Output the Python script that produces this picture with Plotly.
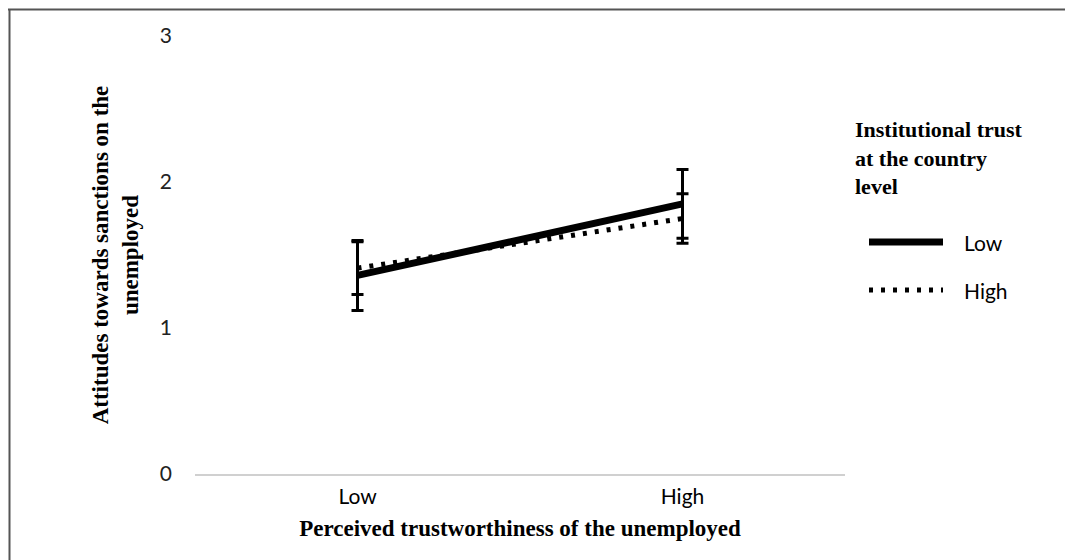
import plotly.graph_objects as go

categories = ["Low", "High"]
low_trust = [1.36, 1.85]
low_trust_err = [0.24, 0.235]
high_trust = [1.41, 1.75]
high_trust_err = [0.18, 0.17]
y_ticks = [0, 1, 2, 3]
legend_title = "Institutional trust<br>at the country<br>level"
series_names = ["Low", "High"]

SERIF = "Liberation Serif, Times New Roman, serif"
SANS = "Lato, Open Sans, sans-serif"

# page has an 8px body margin, so the figure is sized to fit the 1073x560 window
W, H = 1065, 552
L, R, T, B = 187, 228, 28, 86
PW, PH = W - L - R, H - T - B


def px(x):
    return (x - L) / PW


def py(y):
    return (H - B - y) / PH


fig = go.Figure()
fig.add_trace(go.Scatter(
    x=categories, y=low_trust, name=series_names[0], mode="lines",
    line=dict(color="black", width=7),
    error_y=dict(type="data", array=low_trust_err, color="black", thickness=3, width=6),
    showlegend=False,
))
fig.add_trace(go.Scatter(
    x=categories, y=high_trust, name=series_names[1], mode="lines",
    line=dict(color="black", width=5, dash="4px,8px"),
    error_y=dict(type="data", array=high_trust_err, color="black", thickness=3, width=6),
    showlegend=False,
))

shapes = [
    dict(type="line", xref="paper", yref="paper", x0=px(0), x1=px(W), y0=py(1.5), y1=py(1.5),
         line=dict(color="#555", width=2), layer="above"),
    dict(type="line", xref="paper", yref="paper", x0=px(1.5), x1=px(1.5), y0=py(1), y1=py(H),
         line=dict(color="#555", width=2), layer="above"),
    dict(type="line", xref="paper", yref="paper", x0=px(861), x1=px(935), y0=py(234), y1=py(234),
         line=dict(color="black", width=7)),
    dict(type="line", xref="paper", yref="paper", x0=px(861), x1=px(935), y0=py(282), y1=py(282),
         line=dict(color="black", width=5, dash="4px,8px")),
]

annotations = [
    dict(text="<b>" + legend_title + "</b>", xref="paper", yref="paper", x=px(845), y=py(107),
         xanchor="left", yanchor="top", align="left", showarrow=False,
         font=dict(family=SERIF, size=22, color="black")),
    dict(text=series_names[0], xref="paper", yref="paper", x=px(954), y=py(234),
         xanchor="left", yanchor="middle", showarrow=False,
         font=dict(family=SANS, size=21, color="black")),
    dict(text=series_names[1], xref="paper", yref="paper", x=px(954), y=py(282),
         xanchor="left", yanchor="middle", showarrow=False,
         font=dict(family=SANS, size=21, color="black")),
]

fig.update_layout(
    width=W, height=H,
    margin=dict(l=L, r=R, t=T, b=B),
    plot_bgcolor="white", paper_bgcolor="white",
    showlegend=False,
    xaxis=dict(
        type="category", range=[-0.5, 1.5],
        showgrid=False, zeroline=False,
        showline=True, linecolor="#d0d0d0", linewidth=2,
        ticks="outside", ticklen=3, tickcolor="rgba(0,0,0,0)",
        tickfont=dict(family=SANS, size=21, color="black"),
        title=dict(text="<b>Perceived trustworthiness of the unemployed</b>",
                   font=dict(family=SERIF, size=23, color="black"), standoff=13),
    ),
    yaxis=dict(
        range=[0, 3], tickvals=y_ticks,
        showgrid=False, zeroline=False, showline=False,
        ticks="", ticklabelstandoff=22,
        tickfont=dict(family=SANS, size=21, color="#222"),
        title=dict(text="<b>Attitudes towards sanctions on the<br>unemployed</b>",
                   font=dict(family=SERIF, size=23, color="black"), standoff=14),
    ),
    shapes=shapes,
    annotations=annotations,
)

fig.write_html(
    "out.html",
    config={"displayModeBar": False},
    post_script="document.documentElement.style.overflow='hidden';document.body.style.overflow='hidden';",
)
